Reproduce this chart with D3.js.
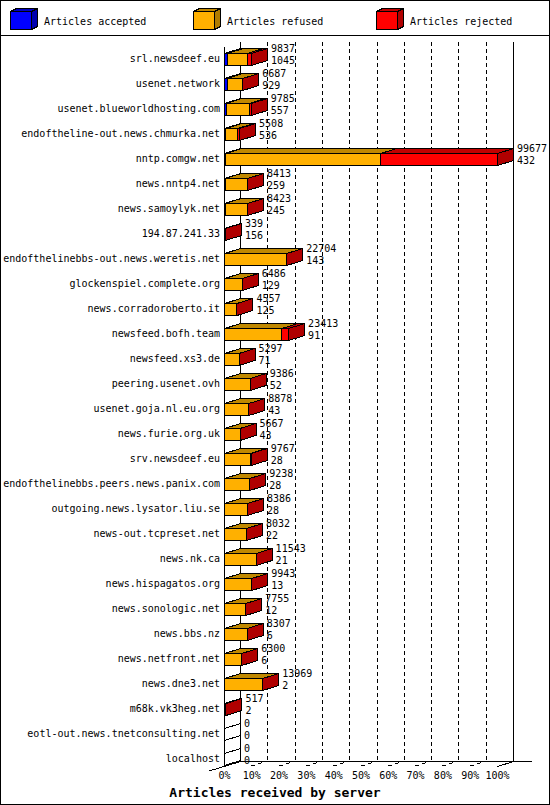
<!DOCTYPE html>
<html>
<head>
<meta charset="utf-8">
<script src="https://cdn.jsdelivr.net/npm/d3@7"></script>
<style>
  html, body { margin: 0; padding: 0; background: #fff; }
  svg { display: block; }
  text { font-family: "DejaVu Sans Mono", "Liberation Mono", monospace; font-size: 10px; fill: #000; }
  .title { font-weight: bold; font-size: 13px; }
</style>
</head>
<body>
<div id="chart"></div>
<script>
// Articles received by server (innfeed-style 3D stacked bars)
const hosts = [
  'srl.newsdeef.eu', 'usenet.network', 'usenet.blueworldhosting.com',
  'endoftheline-out.news.chmurka.net', 'nntp.comgw.net', 'news.nntp4.net',
  'news.samoylyk.net', '194.87.241.33', 'endofthelinebbs-out.news.weretis.net',
  'glockenspiel.complete.org', 'news.corradoroberto.it', 'newsfeed.bofh.team',
  'newsfeed.xs3.de', 'peering.usenet.ovh', 'usenet.goja.nl.eu.org',
  'news.furie.org.uk', 'srv.newsdeef.eu', 'endofthelinebbs.peers.news.panix.com',
  'outgoing.news.lysator.liu.se', 'news-out.tcpreset.net', 'news.nk.ca',
  'news.hispagatos.org', 'news.sonologic.net', 'news.bbs.nz',
  'news.netfront.net', 'news.dne3.net', 'm68k.vk3heg.net',
  'eotl-out.news.tnetconsulting.net', 'localhost'
];
const offered  = [9837, 6687, 9785, 5508, 99677, 8413, 8423, 339, 22704, 6486, 4557, 23413, 5297, 9386, 8878, 5667, 9767, 9238, 8386, 8032, 11543, 9943, 7755, 8307, 6300, 13969, 517, 0, 0];
const accepted = [1045, 929, 557, 536, 432, 259, 245, 156, 143, 129, 125, 91, 71, 52, 43, 43, 28, 28, 28, 22, 21, 13, 12, 6, 6, 2, 2, 0, 0];
const refused  = [7292, 5758, 8528, 4272, 56600, 8154, 8178, 183, 22561, 6357, 4432, 20872, 5226, 9334, 8835, 5624, 9389, 9210, 8358, 8010, 11522, 9930, 7743, 8301, 6294, 13967, 515, 0, 0];
const rejected = [1500, 0, 700, 700, 42645, 0, 0, 0, 0, 0, 0, 2450, 0, 0, 0, 0, 350, 0, 0, 0, 0, 0, 0, 0, 0, 0, 0, 0, 0];
const pctTicks = [0, 10, 20, 30, 40, 50, 60, 70, 80, 90, 100];

const series = [
  { key: 'accepted', label: 'Articles accepted', color: '#0000ff', top: '#0000c0', side: '#0000b0' },
  { key: 'refused',  label: 'Articles refused',  color: '#ffb000', top: '#c08800', side: '#b07c00' },
  { key: 'rejected', label: 'Articles rejected', color: '#ff0000', top: '#c00000', side: '#b00000' }
];

const W = 550, H = 805;
const X0 = 224, PW = 273, DX = 16, DY = 5;
const TOP = 42, FLOOR = 766;
const BAR_H = 12;

const rows = hosts.map(function (h, i) {
  return { host: h, accepted: accepted[i], refused: refused[i], rejected: rejected[i], total: offered[i], acc: accepted[i] };
});

const svg = d3.select('#chart').append('svg')
  .attr('width', W).attr('height', H)
  .attr('shape-rendering', 'crispEdges');

svg.append('rect').attr('x', 0.5).attr('y', 0.5).attr('width', W - 1).attr('height', H - 1)
  .attr('fill', '#fff').attr('stroke', '#000');
svg.append('line').attr('x1', 0).attr('x2', W).attr('y1', 35.5).attr('y2', 35.5).attr('stroke', '#000');

// legend
const leg = svg.append('g');
series.forEach(function (s, i) {
  const lx = 10.5 + i * 183, ly = 11.5, lw = 21, lh = 18, ldx = 6, ldy = 3;
  const g = leg.append('g');
  g.append('polygon').attr('points', [[lx, ly], [lx + ldx, ly - ldy], [lx + lw + ldx, ly - ldy], [lx + lw, ly]].join(' '))
    .attr('fill', s.top).attr('stroke', '#000');
  g.append('polygon').attr('points', [[lx + lw, ly], [lx + lw + ldx, ly - ldy], [lx + lw + ldx, ly + lh - ldy], [lx + lw, ly + lh]].join(' '))
    .attr('fill', s.side).attr('stroke', '#000');
  g.append('rect').attr('x', lx).attr('y', ly).attr('width', lw).attr('height', lh)
    .attr('fill', s.color).attr('stroke', '#000');
  g.append('text').attr('x', 44 + i * 183).attr('y', 21).attr('dy', '0.35em').text(s.label);
});

const maxTotal = d3.max(offered);
const x = d3.scaleLinear().domain([0, maxTotal]).range([0, PW]);
const pct = d3.scaleLinear().domain([0, 100]).range([X0, X0 + PW]);
const y = d3.scaleBand().domain(hosts).range([46, 46 + 25 * hosts.length]);

const grid = svg.append('g');
// dashed back gridlines + floor ticks
pctTicks.filter(function (t) { return t > 0 && t < 100; }).forEach(function (t) {
  const px = Math.round(pct(t)) + 0.5;
  grid.append('line').attr('x1', px + DX).attr('x2', px + DX).attr('y1', TOP).attr('y2', FLOOR - DY)
    .attr('stroke', '#000').attr('stroke-dasharray', '4,3');
  grid.append('line').attr('x1', px).attr('y1', FLOOR).attr('x2', px + DX).attr('y2', FLOOR - DY)
    .attr('stroke', '#000').attr('stroke-dasharray', '4,3');
});
// walls and floor edges
const bx = X0 + 0.5 + DX, rx = X0 + PW + 0.5 + DX;
grid.append('line').attr('x1', bx).attr('x2', bx).attr('y1', TOP).attr('y2', FLOOR - DY + 0.5).attr('stroke', '#000');
grid.append('line').attr('x1', rx).attr('x2', rx).attr('y1', TOP).attr('y2', FLOOR - DY + 0.5).attr('stroke', '#000');
grid.append('line').attr('x1', X0 + 0.5).attr('x2', X0 + 0.5).attr('y1', TOP + DY).attr('y2', FLOOR).attr('stroke', '#000');
grid.append('line').attr('x1', bx).attr('x2', 532).attr('y1', FLOOR - DY + 0.5).attr('y2', FLOOR - DY + 0.5).attr('stroke', '#000');
grid.append('line').attr('x1', bx).attr('y1', FLOOR - DY + 0.5).attr('x2', X0 - 15).attr('y2', FLOOR + 5).attr('stroke', '#000');
grid.append('line').attr('x1', rx).attr('y1', FLOOR - DY + 0.5).attr('x2', X0 + PW + 0.5).attr('y2', FLOOR + 0.5).attr('stroke', '#000');

// percent axis labels
const axis = svg.append('g').attr('transform', 'translate(0,' + FLOOR + ')')
  .call(d3.axisBottom(pct).tickValues(pctTicks).tickSize(0).tickPadding(6).tickFormat(function (d) { return d + '%'; }));
axis.select('.domain').remove();
axis.selectAll('text').attr('font-family', '"DejaVu Sans Mono", monospace').attr('font-size', 10).attr('fill', '#000');

svg.append('text').attr('class', 'title').attr('x', W / 2).attr('y', 792).attr('dy', '0.35em')
  .attr('text-anchor', 'middle').text('Articles received by server');

// host labels
svg.append('g').selectAll('text').data(hosts).enter().append('text')
  .attr('x', 220).attr('y', function (d) { return y(d) + y.bandwidth() / 2; })
  .attr('dy', '0.35em').attr('text-anchor', 'end').text(function (d) { return d; });

// bars
const stacked = d3.stack().keys(series.map(function (s) { return s.key; }))(rows);
const bars = svg.append('g');
rows.forEach(function (r, i) {
  const c = y(r.host) + y.bandwidth() / 2;
  const yt = Math.round(c - BAR_H / 2) + 0.5, yb = yt + BAR_H;
  const g = bars.append('g');
  stacked.forEach(function (layer, k) {
    const s = layer[i];
    const xa = X0 + 0.5 + x(s[0]), xb = X0 + 0.5 + x(s[1]);
    if (xb - xa <= 0) return;
    g.append('polygon').attr('points', [[xa, yt], [xa + DX, yt - DY], [xb + DX, yt - DY], [xb, yt]].join(' '))
      .attr('fill', series[k].top).attr('stroke', '#000');
    g.append('rect').attr('x', xa).attr('y', yt).attr('width', xb - xa).attr('height', BAR_H)
      .attr('fill', series[k].color).attr('stroke', '#000');
  });
  const xe = X0 + 0.5 + x(r.total);
  if (r.total > 0) {
    g.append('polygon').attr('points', [[xe, yt], [xe + DX, yt - DY], [xe + DX, yb - DY], [xe, yb]].join(' '))
      .attr('fill', series[2].side).attr('stroke', '#000');
  } else {
    g.append('line').attr('x1', xe).attr('y1', yt).attr('x2', xe + DX).attr('y2', yt - DY).attr('stroke', '#000');
    g.append('line').attr('x1', xe).attr('y1', yb).attr('x2', xe + DX).attr('y2', yb - DY).attr('stroke', '#000');
  }
  const tx = X0 + x(r.total) + DX + 4;
  g.append('text').attr('x', tx).attr('y', c - 10).attr('dy', '0.35em').text(r.total);
  g.append('text').attr('x', tx).attr('y', c + 2).attr('dy', '0.35em').text(r.acc);
});
</script>
</body>
</html>
